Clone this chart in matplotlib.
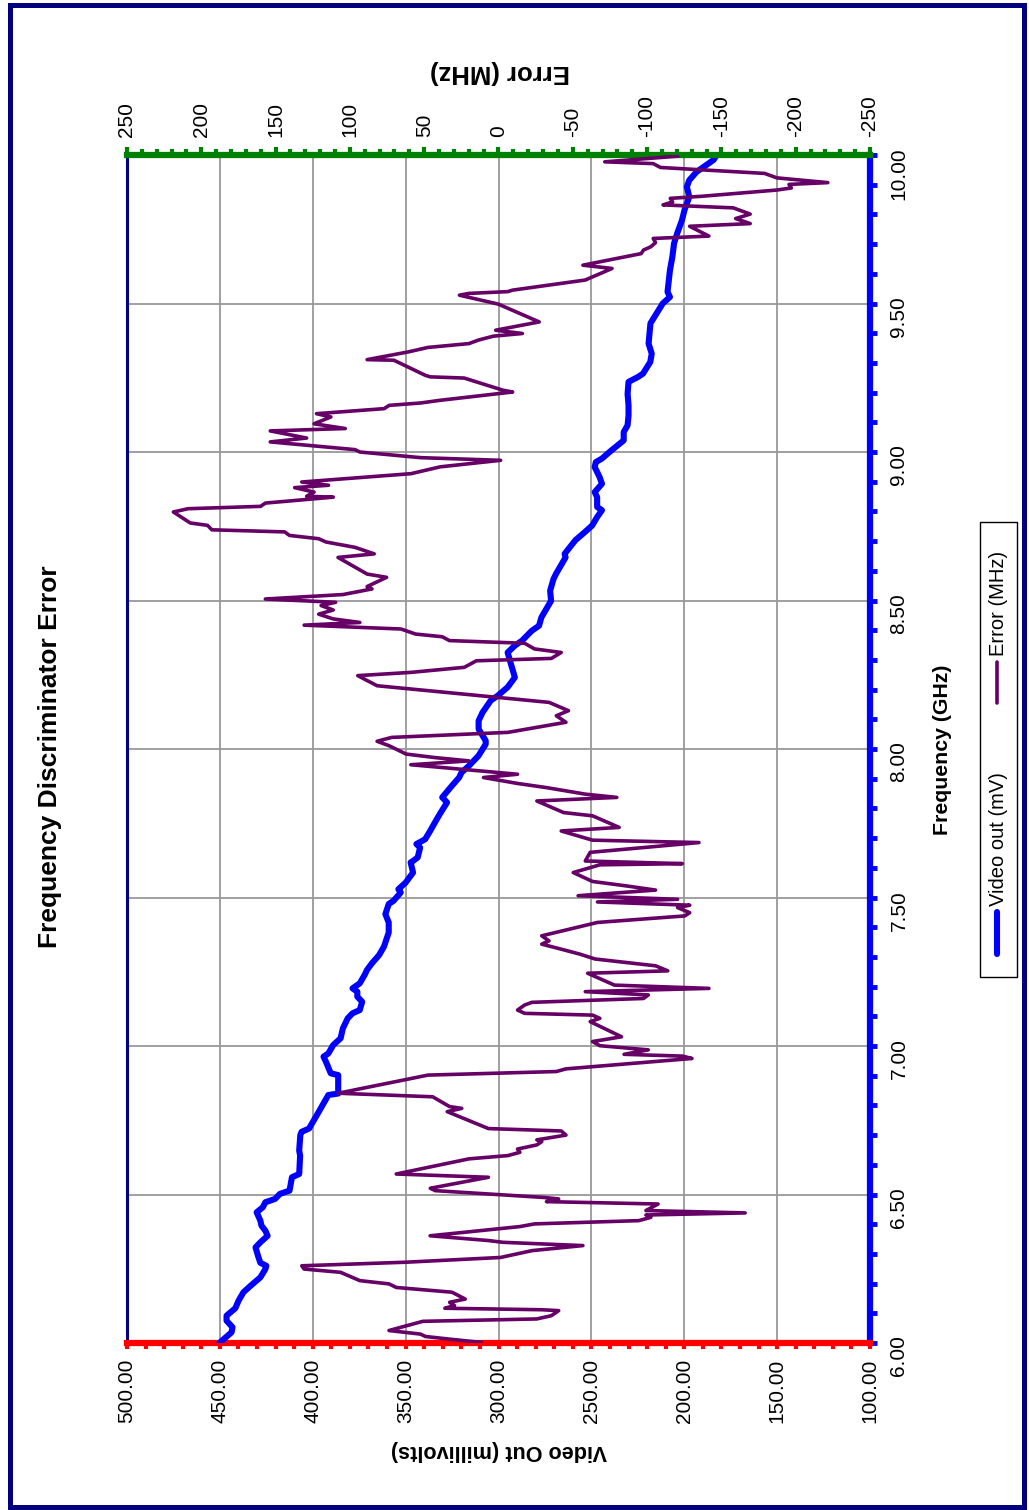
import matplotlib
matplotlib.use("Agg")
import matplotlib.pyplot as plt
from matplotlib.ticker import MultipleLocator, FormatStrFormatter
from matplotlib.patches import Rectangle
from matplotlib.lines import Line2D

plt.rcParams['font.family'] = ['Liberation Sans', 'DejaVu Sans']

# ---------------- data ----------------
video_freq = [6.000, 6.036, 6.053, 6.075, 6.092, 6.117, 6.143, 6.171, 6.193, 6.221,
              6.249, 6.260, 6.270, 6.294, 6.322, 6.339, 6.361, 6.378, 6.395, 6.412,
              6.440, 6.457, 6.474, 6.485, 6.502, 6.513, 6.558, 6.569, 6.631, 6.648,
              6.700, 6.711, 6.722, 6.778, 6.835, 6.840, 6.902, 6.908, 6.947, 6.964,
              6.975, 7.003, 7.026, 7.059, 7.093, 7.110, 7.121, 7.149, 7.166, 7.183,
              7.194, 7.211, 7.239, 7.256, 7.278, 7.306, 7.334, 7.382, 7.416, 7.444,
              7.478, 7.489, 7.517, 7.528, 7.550, 7.584, 7.618, 7.623, 7.635, 7.668,
              7.680, 7.696, 7.724, 7.753, 7.781, 7.820, 7.837, 7.876, 7.904, 7.921,
              7.943, 7.977, 8.016, 8.028, 8.067, 8.095, 8.123, 8.163, 8.180, 8.208,
              8.241, 8.269, 8.297, 8.325, 8.348, 8.365, 8.398, 8.415, 8.443, 8.471,
              8.499, 8.533, 8.572, 8.589, 8.645, 8.657, 8.703, 8.731, 8.753, 8.781,
              8.804, 8.815, 8.848, 8.865, 8.893, 8.916, 8.949, 8.966, 8.978, 9.006,
              9.039, 9.067, 9.090, 9.123, 9.157, 9.196, 9.236, 9.253, 9.264, 9.303,
              9.331, 9.365, 9.433, 9.500, 9.522, 9.539, 9.612, 9.657, 9.702, 9.736,
              9.781, 9.814, 9.859, 9.893, 9.915, 9.943, 9.966, 9.983, 10.000]
video_mv = [450.3, 443.7, 443.2, 446.4, 446.4, 441.7, 439.9, 437.3, 433.4, 428.2,
            425.5, 425.0, 428.2, 429.5, 430.8, 428.2, 424.3, 425.5, 427.6, 428.2,
            430.2, 426.9, 425.5, 420.3, 417.7, 412.5, 411.2, 407.3, 406.8, 407.3,
            406.7, 406.0, 402.0, 396.8, 391.6, 386.3, 386.3, 390.3, 392.9, 394.2,
            391.6, 389.0, 385.0, 383.8, 381.2, 378.6, 374.7, 373.4, 376.0, 376.0,
            378.6, 374.7, 372.1, 370.8, 368.2, 364.3, 361.7, 359.1, 359.1, 360.9,
            359.1, 356.5, 352.6, 353.9, 350.0, 346.0, 347.3, 346.0, 343.5, 342.2,
            344.2, 339.5, 336.8, 334.2, 331.6, 327.7, 330.3, 325.1, 321.2, 319.9,
            316.0, 310.8, 306.9, 306.9, 310.7, 310.7, 308.6, 304.2, 300.3, 295.1,
            291.2, 292.5, 293.8, 295.1, 291.2, 287.3, 282.1, 278.2, 276.9, 274.3,
            271.7, 272.2, 270.4, 269.1, 263.9, 264.4, 258.6, 253.4, 249.5, 246.9,
            244.3, 246.9, 246.9, 248.2, 244.3, 245.6, 248.2, 247.6, 244.3, 239.1,
            232.6, 232.6, 230.5, 230.0, 230.0, 230.5, 230.0, 224.8, 222.2, 218.3,
            217.5, 219.2, 218.2, 211.6, 207.7, 209.0, 207.7, 206.4, 205.5, 203.8,
            201.2, 199.9, 197.3, 198.6, 197.3, 193.4, 188.2, 184.3, 182.5]

error_freq = [6.002, 6.013, 6.022, 6.030, 6.042, 6.073, 6.081, 6.092, 6.109, 6.112,
              6.117, 6.126, 6.137, 6.148, 6.171, 6.187, 6.199, 6.210, 6.238, 6.249,
              6.260, 6.272, 6.288, 6.311, 6.328, 6.339, 6.345, 6.361, 6.392, 6.401,
              6.412, 6.423, 6.431, 6.438, 6.446, 6.468, 6.476, 6.485, 6.490, 6.513,
              6.521, 6.558, 6.569, 6.620, 6.631, 6.642, 6.653, 6.667, 6.678, 6.684,
              6.700, 6.714, 6.722, 6.779, 6.790, 6.796, 6.829, 6.841, 6.902, 6.914,
              6.923, 6.958, 6.966, 6.972, 6.987, 7.001, 7.015, 7.031, 7.082, 7.093,
              7.104, 7.110, 7.121, 7.138, 7.147, 7.160, 7.172, 7.183, 7.194, 7.205,
              7.245, 7.253, 7.270, 7.293, 7.309, 7.326, 7.343, 7.354, 7.371, 7.416,
              7.438, 7.449, 7.466, 7.474, 7.485, 7.494, 7.506, 7.525, 7.539, 7.554,
              7.584, 7.610, 7.614, 7.623, 7.652, 7.685, 7.693, 7.724, 7.736, 7.775,
              7.786, 7.825, 7.837, 7.848, 7.870, 7.884, 7.904, 7.915, 7.947, 7.960,
              7.971, 7.983, 8.011, 8.026, 8.039, 8.056, 8.090, 8.112, 8.129, 8.157,
              8.213, 8.247, 8.258, 8.275, 8.297, 8.305, 8.325, 8.337, 8.356, 8.365,
              8.378, 8.387, 8.404, 8.417, 8.426, 8.438, 8.454, 8.468, 8.483, 8.494,
              8.505, 8.520, 8.539, 8.547, 8.578, 8.589, 8.645, 8.657, 8.679, 8.697,
              8.708, 8.719, 8.731, 8.738, 8.753, 8.761, 8.798, 8.809, 8.817, 8.828,
              8.848, 8.851, 8.865, 8.880, 8.888, 8.899, 8.927, 8.950, 8.972, 8.981,
              9.000, 9.008, 9.034, 9.047, 9.071, 9.079, 9.095, 9.118, 9.129, 9.146,
              9.157, 9.165, 9.174, 9.202, 9.208, 9.249, 9.253, 9.258, 9.309, 9.311,
              9.337, 9.352, 9.365, 9.377, 9.390, 9.399, 9.410, 9.438, 9.498, 9.528,
              9.534, 9.540, 9.545, 9.579, 9.618, 9.629, 9.668, 9.680, 9.691, 9.705,
              9.719, 9.727, 9.760, 9.769, 9.786, 9.801, 9.822, 9.832, 9.842, 9.854,
              9.861, 9.882, 9.889, 9.901, 9.907, 9.923, 9.938, 9.958, 9.971, 9.977,
              9.996]
error_mhz = [11.7, 33.0, 49.2, 52.5, 73.7, 50.9, -25.8, -35.6, -40.5, -29.1,
             36.1, 29.6, 32.9, 22.4, 31.3, 68.8, 73.7, 93.3, 106.3, 130.8,
             132.4, 62.3, -1.4, -22.5, -56.8, -3.0, 6.8, 46.0, -14.4, -24.2,
             -94.4, -102.5, -99.2, -166.0, -99.2, -107.4, -32.3, -40.5, -30.7, 42.6,
             45.9, 6.8, 68.8, 19.9, -6.3, -14.4, -12.8, -25.8, -29.1, -25.8,
             -45.4, -42.2, 6.8, 34.5, 24.7, 32.9, 44.3, 107.9, 47.5, -38.9,
             -45.4, -130.2, -123.7, -84.5, -100.8, -68.2, -63.3, -82.8, -61.7, -68.2,
             -63.3, -17.6, -12.8, -17.6, -22.5, -97.6, -100.8, -58.4, -141.6, -78.0,
             -60.0, -113.9, -105.7, -64.9, -55.0, -42.2, -29.1, -34.0, -29.1, -66.6,
             -125.4, -128.7, -120.5, -128.7, -66.6, -120.5, -53.6, -105.7, -86.1, -63.3,
             -50.3, -68.2, -123.7, -58.4, -61.7, -134.9, -63.3, -42.2, -81.2, -63.3,
             -43.8, -25.8, -79.6, -58.4, -32.3, -12.8, 10.1, -12.8, 59.0, 19.9,
             42.6, 62.2, 73.6, 81.7, 71.9, -6.3, -45.4, -38.9, -47.1, -34.0,
             81.7, 94.7, 58.9, 23.0, 14.9, -35.6, -42.2, -24.2, -17.6, 33.0,
             37.9, 55.8, 65.6, 130.8, 93.3, 111.2, 121.0, 111.2, 119.4, 109.6,
             156.9, 104.7, 85.1, 88.4, 75.3, 88.4, 108.0, 83.6, 96.6, 116.1,
             121.0, 140.6, 143.9, 192.9, 195.8, 207.4, 218.8, 209.0, 160.1, 156.9,
             111.2, 129.1, 124.1, 137.2, 114.4, 132.4, 58.9, 39.3, -1.4, 52.5,
             93.3, 96.6, 153.6, 129.1, 153.6, 103.1, 124.1, 112.8, 122.5, 76.9,
             73.6, 52.5, 39.4, -9.5, -3.0, 23.1, 45.9, 49.2, 70.4, 88.4,
             60.7, 47.6, 19.9, 13.4, 3.5, -16.1, 1.9, -27.4, 0.2, 26.3,
             19.9, -6.3, -9.5, -58.4, -76.4, -56.8, -96.0, -97.6, -102.5, -105.7,
             -104.1, -141.6, -128.6, -169.4, -159.6, -169.4, -158.0, -110.7, -117.2, -115.6,
             -136.8, -187.3, -197.1, -195.5, -221.6, -187.3, -179.1, -109.0, -104.1, -71.5,
             -120.5]

title = "Frequency Discriminator Error"
freq_label = "Frequency (GHz)"
video_label = "Video Out (millivolts)"
error_label = "Error (MHz)"
legend_labels = ["Video out (mV)", "Error (MHz)"]

# ---------------- figure ----------------
W, H = 1029, 1510
fig = plt.figure(figsize=(W / 100, H / 100), dpi=100)
L, R, T, B = 127, 870, 155, 1343
ax = fig.add_axes([L / W, 1 - B / H, (R - L) / W, (B - T) / H])
ax.set_xlim(500, 100)
ax.set_ylim(6, 10)
ax2 = ax.twiny()
ax2.set_xlim(250, -250)

BLUE = '#0000ff'
PURPLE = '#660066'
RED = '#ff0000'
GREEN = '#008000'
NAVY = '#000080'

# grid
ax.xaxis.set_major_locator(MultipleLocator(50))
ax.xaxis.set_minor_locator(MultipleLocator(10))
ax.yaxis.set_major_locator(MultipleLocator(0.5))
ax.yaxis.set_minor_locator(MultipleLocator(0.1))
ax.grid(True, which='major', color='#999999', lw=1.3)
ax.set_axisbelow(True)

# spines
ax.spines['bottom'].set_color(RED)
ax.spines['bottom'].set_linewidth(4.5)
ax.spines['left'].set_color(NAVY)
ax.spines['left'].set_linewidth(2.2)
ax.spines['right'].set_color(BLUE)
ax.spines['right'].set_linewidth(4.5)
ax.spines['top'].set_visible(False)
for s in ['bottom', 'left', 'right']:
    ax2.spines[s].set_visible(False)
ax2.spines['top'].set_color(GREEN)
ax2.spines['top'].set_linewidth(4.5)

# ticks
ax.xaxis.set_major_formatter(FormatStrFormatter('%.2f'))
ax.tick_params(axis='x', which='both', direction='out', color=RED, width=3,
               length=4.5, labelsize=15, labelrotation=90, pad=7)
ax.yaxis.tick_right()
ax.yaxis.set_major_formatter(FormatStrFormatter('%.2f'))
ax.tick_params(axis='y', which='both', direction='out', color=BLUE, width=3.5,
               length=5, labelsize=15, labelrotation=90, pad=9,
               left=False, right=True, labelleft=False, labelright=True)
ax2.xaxis.set_major_locator(MultipleLocator(50))
ax2.xaxis.set_minor_locator(MultipleLocator(10))
ax2.xaxis.set_major_formatter(FormatStrFormatter('%d'))
ax2.tick_params(axis='x', which='major', direction='out', color=GREEN, width=3,
                length=6, labelsize=15, labelrotation=90, pad=7)
ax2.tick_params(axis='x', which='minor', direction='out', color=GREEN, width=3,
                length=4)

# data lines
ax.plot(video_mv, video_freq, color=BLUE, lw=4.4, solid_joinstyle='round',
        solid_capstyle='round', zorder=3)
ax2.plot(error_mhz, error_freq, color=PURPLE, lw=2.6, solid_joinstyle='round',
         zorder=3)

# titles
fig.text(50 / W, 1 - 757 / H, title, rotation=90, ha='center', va='center',
         fontsize=19, fontweight='bold')
fig.text(942 / W, 1 - 750 / H, freq_label, rotation=90, ha='center', va='center',
         fontsize=15.3, fontweight='bold')
fig.text(499 / W, 1 - 1450 / H, video_label, rotation=180, ha='center', va='center',
         fontsize=15.6, fontweight='bold')
fig.text(500 / W, 1 - 72 / H, error_label, rotation=180, ha='center', va='center',
         fontsize=18.5, fontweight='bold')

# legend (rotated, drawn manually)
fig.add_artist(Rectangle((980 / W, 1 - 977 / H), 37 / W, 455 / H,
                         transform=fig.transFigure, fill=False, ec='black', lw=1))
fig.add_artist(Line2D([997 / W, 997 / W], [1 - 954 / H, 1 - 912 / H],
                      transform=fig.transFigure, color=BLUE, lw=4.4,
                      solid_capstyle='round'))
fig.text(998 / W, 1 - 906 / H, legend_labels[0], rotation=90, ha='center',
         va='bottom', fontsize=14.5)
fig.add_artist(Line2D([997 / W, 997 / W], [1 - 703 / H, 1 - 662 / H],
                      transform=fig.transFigure, color=PURPLE, lw=2.6,
                      solid_capstyle='round'))
fig.text(998 / W, 1 - 656 / H, legend_labels[1], rotation=90, ha='center',
         va='bottom', fontsize=14.5)

# outer border
fig.add_artist(Rectangle((10 / W, 1 - 1507 / H), 1014 / W, 1502 / H,
                         transform=fig.transFigure, fill=False, ec=NAVY, lw=3.6))

fig.savefig('out.png', dpi=100)
